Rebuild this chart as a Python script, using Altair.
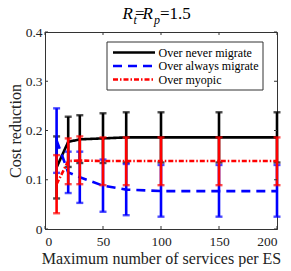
import altair as alt
import pandas as pd

# ---- data ----
x_vals = [10, 20, 30, 50, 70, 100, 150, 200]
series_names = ["Over never migrate", "Over always migrate", "Over myopic"]

never_mean = [0.125, 0.177, 0.182, 0.184, 0.186, 0.186, 0.186, 0.186]
never_lo = [0.062, 0.126, 0.134, 0.134, 0.135, 0.135, 0.135, 0.135]
never_hi = [0.188, 0.228, 0.231, 0.235, 0.237, 0.237, 0.237, 0.237]

always_mean = [0.180, 0.115, 0.105, 0.088, 0.080, 0.077, 0.077, 0.077]
always_lo = [0.114, 0.073, 0.053, 0.035, 0.028, 0.025, 0.025, 0.025]
always_hi = [0.245, 0.157, 0.157, 0.141, 0.132, 0.130, 0.130, 0.130]

myopic_mean = [0.091, 0.138, 0.139, 0.138, 0.138, 0.138, 0.138, 0.138]
myopic_lo = [0.032, 0.091, 0.091, 0.089, 0.089, 0.089, 0.089, 0.089]
myopic_hi = [0.150, 0.184, 0.188, 0.186, 0.186, 0.186, 0.186, 0.186]

x_ticks = [0, 50, 100, 150, 200]
y_ticks = [0, 0.1, 0.2, 0.3, 0.4]

colors = ["#000000", "#0000FF", "#FF0000"]
dashes = [[1, 0], [9, 6], [5, 2, 1.5, 2]]

W, H = 232, 197
FONT = "Liberation Serif"
INK = "#222222"

means = [never_mean, always_mean, myopic_mean]
los = [never_lo, always_lo, myopic_lo]
his = [never_hi, always_hi, myopic_hi]

xs = alt.Scale(domain=[0, 200], nice=False, zero=False)
ys = alt.Scale(domain=[0, 0.4], nice=False)

x_axis = alt.Axis(values=x_ticks, ticks=False, grid=False, title="Maximum number of services per ES",
                  labelPadding=5, titlePadding=3, format="d",
                  labelFont=FONT, labelFontSize=13.5, labelColor=INK,
                  titleFont=FONT, titleFontSize=16, titleFontWeight="normal", titleColor=INK,
                  domainColor="#333333")
y_axis = alt.Axis(values=y_ticks, ticks=False, grid=False, title="Cost reduction",
                  labelPadding=3, titlePadding=2,
                  labelExpr="datum.value == 0 ? '0' : format(datum.value, '.1f')",
                  labelFont=FONT, labelFontSize=13.5, labelColor=INK,
                  titleFont=FONT, titleFontSize=16, titleFontWeight="normal", titleColor=INK,
                  domainColor="#333333")

layers = []
for name, m, lo, hi, col, dash in zip(series_names, means, los, his, colors, dashes):
    df = pd.DataFrame({"x": x_vals, "y": m, "lo": lo, "hi": hi})
    base = alt.Chart(df)
    line = base.mark_line(strokeWidth=2.6, color=col, strokeDash=dash).encode(
        x=alt.X("x:Q", scale=xs, axis=x_axis),
        y=alt.Y("y:Q", scale=ys, axis=y_axis),
    )
    bars = base.mark_rule(strokeWidth=2.6, color=col).encode(x="x:Q", y="lo:Q", y2="hi:Q")
    cap_lo = base.mark_tick(orient="horizontal", size=7, thickness=2.4, color=col).encode(x="x:Q", y="lo:Q")
    cap_hi = base.mark_tick(orient="horizontal", size=7, thickness=2.4, color=col).encode(x="x:Q", y="hi:Q")
    layers += [line, bars, cap_lo, cap_hi]

# inward ticks on all four sides
xt = alt.Chart(pd.DataFrame({"t": x_ticks}))
yt = alt.Chart(pd.DataFrame({"t": y_ticks}))
tick_col = "#333333"
ticks = [
    xt.mark_rule(color=tick_col, strokeWidth=1).encode(x="t:Q", y=alt.value(H), y2=alt.value(H - 3)),
    xt.mark_rule(color=tick_col, strokeWidth=1).encode(x="t:Q", y=alt.value(0), y2=alt.value(3)),
    yt.mark_rule(color=tick_col, strokeWidth=1).encode(y="t:Q", x=alt.value(0), x2=alt.value(3)),
    yt.mark_rule(color=tick_col, strokeWidth=1).encode(y="t:Q", x=alt.value(W), x2=alt.value(W - 3)),
]

one = alt.Chart(pd.DataFrame({"a": [0]}))

# legend drawn by hand (box, line samples, labels)
legend = [
    one.mark_rect(fill="white", stroke="#333333", strokeWidth=1).encode(
        x=alt.value(62), x2=alt.value(218), y=alt.value(10), y2=alt.value(58))
]
for i, (name, col, dash) in enumerate(zip(series_names, colors, dashes)):
    yy = 20.5 + 13.5 * i
    legend.append(one.mark_rule(color=col, strokeWidth=2.6, strokeDash=dash).encode(
        x=alt.value(68), x2=alt.value(110), y=alt.value(yy)))
    legend.append(one.mark_text(text=name, font=FONT, fontSize=12, align="left", baseline="middle",
                                color="black").encode(x=alt.value(113.5), y=alt.value(yy)))

# title R_t = R_p = 1.5 built from pieces
def piece(txt, x, y, size, italic):
    return one.mark_text(text=txt, font=FONT, fontSize=size, fontStyle="italic" if italic else "normal",
                         align="left", baseline="alphabetic", color="black").encode(
        x=alt.value(x), y=alt.value(y))

title = [
    piece("R", 77.5, -13, 17, True),
    piece("t", 88.5, -8, 12, True),
    piece("=", 90, -13, 17, False),
    piece("R", 97.5, -13, 17, True),
    piece("p", 109, -8, 12, True),
    piece("=1.5", 115, -13, 17, False),
]

chart = alt.layer(*layers, *ticks, *legend, *title).properties(
    width=W, height=H,
    autosize=alt.AutoSizeParams(type="none"),
    padding={"left": 37, "top": 24, "right": 6, "bottom": 38},
).configure(
    font=FONT
).configure_view(
    stroke="#333333", strokeWidth=1
)

chart.save("out.html", embed_options={"renderer": "svg", "actions": False})
